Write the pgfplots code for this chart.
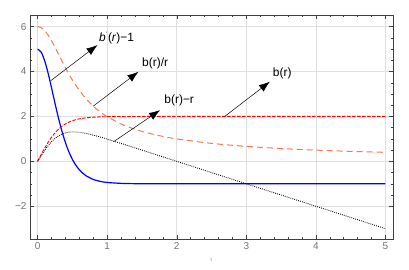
\documentclass[border=0pt]{standalone}
\usepackage{pgfplots}
\pgfplotsset{compat=1.18}
\usepackage{fontspec}
\setmainfont{Liberation Sans}
\usetikzlibrary{arrows.meta}
\definecolor{coral}{rgb}{0.98,0.47,0.33}
\definecolor{framegray}{rgb}{0.25,0.25,0.25}
\definecolor{ticklab}{rgb}{0.45,0.45,0.45}
\begin{document}
\begin{tikzpicture}
\begin{axis}[
  scale only axis, width=363bp, height=224bp,
  at={(0,0)}, anchor=south west,
  xmin=-0.11, xmax=5.11, ymin=-3.46, ymax=6.52,
  xtick={0,1,2,3,4,5}, ytick={-2,0,2,4,6},
  xticklabels={0,1,2,3,4,5}, yticklabels={−2,0,2,4,6},
  minor x tick num=4, minor y tick num=3,
  tick align=inside,
  major tick length=4bp, minor tick length=2bp,
  every tick/.style={framegray, line width=0.4pt},
  axis line style={framegray, line width=0.8pt},
  grid=major,
  major grid style={gray!25, line width=0.6pt},
  ticklabel style={font=\fontsize{10}{11}\selectfont, text=ticklab},
  xlabel={r}, xlabel style={font=\fontsize{5}{6}\selectfont, text=ticklab, yshift=-2bp},
  clip=false,
]
% b'(r)-1
\addplot[blue, line width=1.2pt, smooth] coordinates {
(0,5) (0.05,4.867) (0.1,4.491) (0.15,3.932) (0.2,3.269) (0.25,2.579) (0.3,1.921)
(0.35,1.333) (0.4,0.830) (0.45,0.416) (0.5,0.084) (0.55,-0.177) (0.6,-0.379)
(0.65,-0.533) (0.7,-0.651) (0.8,-0.806) (0.9,-0.893) (1.0,-0.941) (1.2,-0.982)
(1.4,-0.995) (1.6,-0.998) (2.0,-1.0) (3,-1) (4,-1) (5,-1)};
% b(r)/r
\addplot[coral, line width=1.0pt, dash pattern=on 6bp off 4bp, smooth] coordinates {
(0,6) (0.05,5.956) (0.1,5.826) (0.15,5.625) (0.2,5.371) (0.25,5.081) (0.3,4.775)
(0.35,4.467) (0.4,4.168) (0.45,3.885) (0.5,3.621) (0.6,3.156) (0.7,2.773)
(0.8,2.459) (0.9,2.202) (1.0,1.990) (1.2,1.664) (1.4,1.428) (1.6,1.250)
(1.8,1.111) (2.0,1.000) (2.5,0.8) (3,0.667) (3.5,0.571) (4,0.5) (4.5,0.444) (5,0.4)};
% b(r)
\addplot[red, line width=0.9pt, dash pattern=on 3.5bp off 1.5bp, smooth] coordinates {
(0,0) (0.05,0.298) (0.1,0.583) (0.15,0.844) (0.2,1.074) (0.25,1.270) (0.3,1.433)
(0.35,1.564) (0.4,1.667) (0.45,1.748) (0.5,1.810) (0.55,1.858) (0.6,1.894)
(0.65,1.921) (0.7,1.941) (0.8,1.967) (0.9,1.982) (1.0,1.990) (1.2,1.997)
(1.4,1.999) (1.6,2.0) (2,2) (3,2) (4,2) (5,2)};
% b(r)-r
\addplot[black, line width=0.9pt, dash pattern=on 0.8bp off 1.2bp, smooth] coordinates {
(0,0) (0.05,0.248) (0.1,0.483) (0.15,0.694) (0.2,0.874) (0.25,1.020) (0.3,1.133)
(0.35,1.214) (0.4,1.267) (0.45,1.298) (0.5,1.310) (0.55,1.308) (0.6,1.294)
(0.7,1.241) (0.8,1.167) (0.9,1.082) (1.0,0.990) (1.2,0.797) (1.4,0.599)
(1.6,0.400) (2,0) (3,-1) (4,-2) (5,-3)};
% annotations
\draw[-{Latex[length=11bp,width=8bp]}, line width=0.5pt] (axis cs:0.187,3.59) -- (axis cs:0.86,5.18);
\node[anchor=west, font=\fontsize{12}{14}\selectfont, inner sep=0pt] at (axis cs:0.88,5.5) {\textit{b}\raisebox{1.1ex}{\fontsize{7}{7}\selectfont·}(\textit{r})−1};
\draw[-{Latex[length=11bp,width=8bp]}, line width=0.5pt] (axis cs:0.80,2.46) -- (axis cs:1.45,3.99);
\node[anchor=west, font=\fontsize{12}{14}\selectfont, inner sep=0pt] at (axis cs:1.50,4.38) {b(r)/r};
\draw[-{Latex[length=11bp,width=8bp]}, line width=0.5pt] (axis cs:1.09,0.87) -- (axis cs:1.76,2.28);
\node[anchor=west, font=\fontsize{12}{14}\selectfont, inner sep=0pt] at (axis cs:1.82,2.73) {b(r)−r};
\draw[-{Latex[length=11bp,width=8bp]}, line width=0.5pt] (axis cs:2.69,2.0) -- (axis cs:3.34,3.55);
\node[anchor=west, font=\fontsize{12}{14}\selectfont, inner sep=0pt] at (axis cs:3.38,3.92) {b(r)};
\end{axis}
\pgfresetboundingbox
\path[use as bounding box] (-30bp,-31bp) rectangle (379bp,239bp);
\end{tikzpicture}
\end{document}
